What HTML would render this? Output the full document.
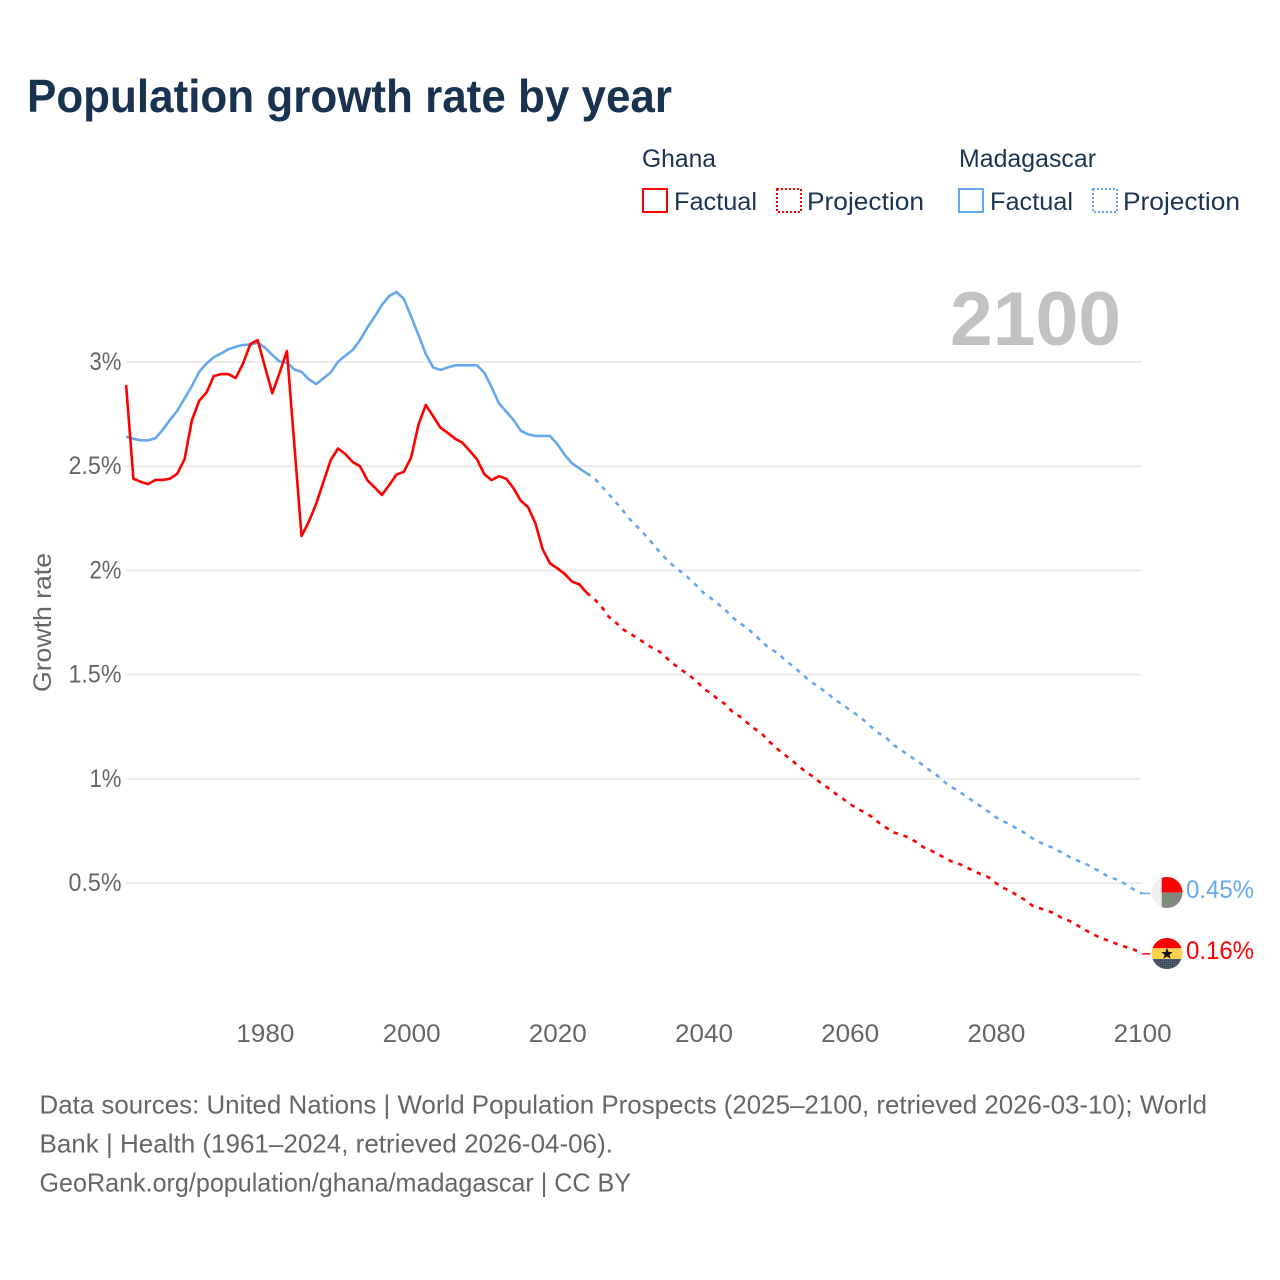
<!DOCTYPE html>
<html>
<head>
<meta charset="utf-8">
<title>Population growth rate by year</title>
<style>
html,body{margin:0;padding:0;background:#fff;}
svg{display:block;}
text{font-family:"Liberation Sans",sans-serif;}
</style>
</head>
<body>
<svg id="chart" width="1280" height="1280" viewBox="0 0 1280 1280" xmlns="http://www.w3.org/2000/svg">
  <defs>
    <pattern id="dots-dark" width="2" height="2" patternUnits="userSpaceOnUse"><rect width="2" height="2" fill="#4d5a6c"/><rect width="1" height="1" fill="#364152"/></pattern>
    <pattern id="dots-light" width="2" height="2" patternUnits="userSpaceOnUse"><rect width="2" height="2" fill="#f4f4f4"/><rect width="1" height="1" fill="#e6e6e6"/></pattern>
    <clipPath id="flag-clip-mg"><circle cx="1167" cy="892.5" r="15.5"/></clipPath>
    <clipPath id="flag-clip-gh"><circle cx="1167" cy="953.5" r="15.5"/></clipPath>
  </defs>

  <text x="27" y="112" font-size="46" font-weight="700" fill="#193250" textLength="645" lengthAdjust="spacingAndGlyphs">Population growth rate by year</text>

  <g font-size="25" fill="#1d3354">
    <text x="642" y="167" textLength="74" lengthAdjust="spacingAndGlyphs">Ghana</text>
    <text x="959" y="167" textLength="137" lengthAdjust="spacingAndGlyphs">Madagascar</text>
    <rect x="643" y="189" width="24" height="23" fill="none" stroke="#ff0000" stroke-width="2"/>
    <text x="674" y="210" textLength="83" lengthAdjust="spacingAndGlyphs">Factual</text>
    <rect x="777" y="189" width="24" height="23" fill="none" stroke="#ff0000" stroke-width="2" stroke-dasharray="2 2"/>
    <text x="807" y="210" textLength="117" lengthAdjust="spacingAndGlyphs">Projection</text>
    <rect x="959" y="189" width="24" height="23" fill="none" stroke="#66a8ee" stroke-width="2"/>
    <text x="990" y="210" textLength="83" lengthAdjust="spacingAndGlyphs">Factual</text>
    <rect x="1093" y="189" width="24" height="23" fill="none" stroke="#66a8ee" stroke-width="2" stroke-dasharray="2 2"/>
    <text x="1123" y="210" textLength="117" lengthAdjust="spacingAndGlyphs">Projection</text>
  </g>

  <g id="grid"></g>
  <text x="950" y="345" font-size="76" font-weight="700" fill="#c1c3c3" textLength="171" lengthAdjust="spacingAndGlyphs">2100</text>
  <g id="y-ticks"></g>
  <g id="x-ticks"></g>
  <text transform="translate(51,692) rotate(-90)" font-size="25" fill="#666666" textLength="139" lengthAdjust="spacingAndGlyphs">Growth rate</text>
  <g id="series"></g>

  <g>
    <g clip-path="url(#flag-clip-mg)">
      <rect x="1150" y="876" width="12" height="33" fill="url(#dots-light)"/>
      <rect x="1161.7" y="876" width="22" height="16.7" fill="#ff0000"/>
      <rect x="1161.7" y="892.7" width="22" height="17" fill="#7d8a7c"/>
    </g>
  </g>
  <g>
    <g clip-path="url(#flag-clip-gh)">
      <rect x="1150" y="937" width="34" height="11.3" fill="#ff0000"/>
      <rect x="1150" y="948.3" width="34" height="10.7" fill="#fcd34d"/>
      <rect x="1150" y="959" width="34" height="11" fill="url(#dots-dark)"/>
    </g>
    <polygon points="1167,948 1168.6,952 1172.8,952 1169.4,954.7 1170.6,958.8 1167,956.4 1163.4,958.8 1164.6,954.7 1161.2,952 1165.4,952" fill="#111111"/>
  </g>
  <text id="end-label-madagascar" x="1186" y="898" font-size="25" fill="#66a8ee" textLength="68" lengthAdjust="spacingAndGlyphs">0.45%</text>
  <text id="end-label-ghana" x="1186" y="959" font-size="25" fill="#ff0000" textLength="68" lengthAdjust="spacingAndGlyphs">0.16%</text>

  <g font-size="26" fill="#666666">
    <text x="39.5" y="1113.5" textLength="1167.5" lengthAdjust="spacingAndGlyphs">Data sources: United Nations | World Population Prospects (2025–2100, retrieved 2026-03-10); World</text>
    <text x="39.5" y="1152.5" textLength="573.5" lengthAdjust="spacingAndGlyphs">Bank | Health (1961–2024, retrieved 2026-04-06).</text>
    <text x="39.5" y="1191.5" textLength="591.5" lengthAdjust="spacingAndGlyphs">GeoRank.org/population/ghana/madagascar | CC BY</text>
  </g>
</svg>

<script>
const firstFactualYear = 1961;
const firstProjectionYear = 2024;
const yTickValues = [0.5, 1, 1.5, 2, 2.5, 3];
const yTickLabels = ["0.5%", "1%", "1.5%", "2%", "2.5%", "3%"];
const xTickValues = [1980, 2000, 2020, 2040, 2060, 2080, 2100];

const ghanaFactual = [
  2.89, 2.44, 2.425, 2.414, 2.434, 2.434, 2.44, 2.464, 2.534,
  2.72, 2.814, 2.853, 2.933, 2.942, 2.942, 2.923, 2.993, 3.086, 3.105,
  2.977, 2.85, 2.948, 3.052, 2.61, 2.165, 2.234, 2.319, 2.425, 2.53,
  2.585, 2.558, 2.52, 2.50, 2.433, 2.398, 2.362, 2.41, 2.46, 2.473,
  2.542, 2.70, 2.794, 2.74, 2.685, 2.66, 2.632, 2.613, 2.574, 2.533,
  2.462, 2.433, 2.452, 2.44, 2.394, 2.334, 2.303, 2.225, 2.10, 2.033,
  2.01, 1.983, 1.946, 1.933, 1.893
];
const ghanaProjection = [
  1.893, 1.864, 1.828, 1.778, 1.749, 1.717,
  1.695, 1.674, 1.650, 1.628, 1.610, 1.578, 1.548, 1.522, 1.498, 1.469,
  1.434, 1.410, 1.381, 1.357, 1.319, 1.298, 1.268, 1.240, 1.215, 1.178,
  1.146, 1.118, 1.090, 1.061, 1.033, 1.010, 0.981, 0.957, 0.930, 0.906,
  0.879, 0.858, 0.839, 0.818, 0.789, 0.765, 0.743, 0.732, 0.719, 0.698,
  0.673, 0.658, 0.639, 0.621, 0.602, 0.591, 0.575, 0.556, 0.542, 0.527,
  0.499, 0.477, 0.460, 0.439, 0.418, 0.391, 0.379, 0.367, 0.355, 0.332,
  0.319, 0.300, 0.279, 0.259, 0.242, 0.228, 0.215, 0.201, 0.191, 0.179,
  0.16
];
const madagascarFactual = [
  2.642, 2.632, 2.624, 2.624, 2.634, 2.674, 2.722, 2.766, 2.825,
  2.885, 2.953, 2.993, 3.023, 3.041, 3.061, 3.073, 3.082, 3.083, 3.093,
  3.069, 3.034, 3.002, 2.997, 2.965, 2.952, 2.917, 2.894, 2.922, 2.950,
  3.002, 3.030, 3.058, 3.105, 3.165, 3.217, 3.274, 3.317, 3.336, 3.302,
  3.217, 3.129, 3.038, 2.974, 2.962, 2.974, 2.984, 2.984, 2.984, 2.984,
  2.949, 2.879, 2.802, 2.762, 2.722, 2.670, 2.653, 2.645, 2.645, 2.645,
  2.606, 2.554, 2.514, 2.490, 2.466
];
const madagascarProjection = [
  2.466, 2.445, 2.405, 2.367, 2.327, 2.286,
  2.242, 2.207, 2.170, 2.130, 2.088, 2.050, 2.018, 1.991, 1.962, 1.928,
  1.892, 1.866, 1.839, 1.809, 1.773, 1.746, 1.722, 1.690, 1.658, 1.626,
  1.607, 1.575, 1.546, 1.517, 1.485, 1.458, 1.434, 1.410, 1.378, 1.357,
  1.330, 1.306, 1.279, 1.247, 1.218, 1.197, 1.162, 1.138, 1.114, 1.090,
  1.066, 1.039, 1.015, 0.983, 0.959, 0.938, 0.914, 0.890, 0.866, 0.842,
  0.815, 0.797, 0.778, 0.759, 0.738, 0.714, 0.695, 0.679, 0.667, 0.645,
  0.626, 0.610, 0.597, 0.578, 0.559, 0.538, 0.523, 0.510, 0.487, 0.466,
  0.45
];

const NS = "http://www.w3.org/2000/svg";
const xScale = year => 126.1 + (year - 1961) * 7.31;
const yScale = value => 883 - (value - 0.5) * 208.4;
const RED = "#ff0000";
const BLUE = "#66a8ee";

const gridGroup = document.getElementById("grid");
const yTickGroup = document.getElementById("y-ticks");
const xTickGroup = document.getElementById("x-ticks");
const seriesGroup = document.getElementById("series");

yTickValues.forEach((value, i) => {
  const line = document.createElementNS(NS, "line");
  
  
  line.setAttribute("x1", 126);
  line.setAttribute("x2", 1142);
  line.setAttribute("y1", yScale(value));
  line.setAttribute("y2", yScale(value));
  line.setAttribute("stroke", "#ebebeb");
  line.setAttribute("stroke-width", "2");
  gridGroup.appendChild(line);

  const label = document.createElementNS(NS, "text");
  
  
  label.setAttribute("x", 121.5);
  label.setAttribute("y", yScale(value) + 8);
  label.setAttribute("text-anchor", "end");
  label.setAttribute("font-size", "25");
  label.setAttribute("fill", "#666666");
  label.setAttribute("textLength", yTickLabels[i].length === 2 ? 32 : 53);
  label.setAttribute("lengthAdjust", "spacingAndGlyphs");
  label.textContent = yTickLabels[i];
  yTickGroup.appendChild(label);
});

xTickValues.forEach(year => {
  const label = document.createElementNS(NS, "text");
  
  
  label.setAttribute("x", xScale(year) + 0.4);
  label.setAttribute("y", 1042);
  label.setAttribute("text-anchor", "middle");
  label.setAttribute("font-size", "25");
  label.setAttribute("fill", "#666666");
  label.setAttribute("textLength", 58);
  label.setAttribute("lengthAdjust", "spacingAndGlyphs");
  label.textContent = String(year);
  xTickGroup.appendChild(label);
});

function drawLine(values, startYear, color, dashed, name) {
  const path = document.createElementNS(NS, "path");
  const d = values.map((v, i) => (i ? "L" : "M") + xScale(startYear + i).toFixed(2) + " " + yScale(v).toFixed(2)).join(" ");
  
  
  path.setAttribute("d", d);
  path.setAttribute("fill", "none");
  path.setAttribute("stroke", color);
  path.setAttribute("stroke-width", "2.6");
  path.setAttribute("stroke-linejoin", "round");
  if (dashed) path.setAttribute("stroke-dasharray", "4.5 5.8");
  seriesGroup.appendChild(path);
}

function drawLeader(value, color, name) {
  const leader = document.createElementNS(NS, "line");
  
  
  leader.setAttribute("x1", xScale(2100));
  leader.setAttribute("x2", 1150);
  leader.setAttribute("y1", yScale(value));
  leader.setAttribute("y2", yScale(value));
  leader.setAttribute("stroke", color);
  leader.setAttribute("stroke-width", "1.5");
  seriesGroup.appendChild(leader);
}

drawLine(madagascarFactual, firstFactualYear, BLUE, false, "madagascar-factual-line");
drawLine(madagascarProjection, firstProjectionYear, BLUE, true, "madagascar-projection-line");
drawLine(ghanaFactual, firstFactualYear, RED, false, "ghana-factual-line");
drawLine(ghanaProjection, firstProjectionYear, RED, true, "ghana-projection-line");
drawLeader(madagascarProjection[madagascarProjection.length - 1], BLUE, "madagascar-leader-line");
drawLeader(ghanaProjection[ghanaProjection.length - 1], RED, "ghana-leader-line");
</script>
</body>
</html>
